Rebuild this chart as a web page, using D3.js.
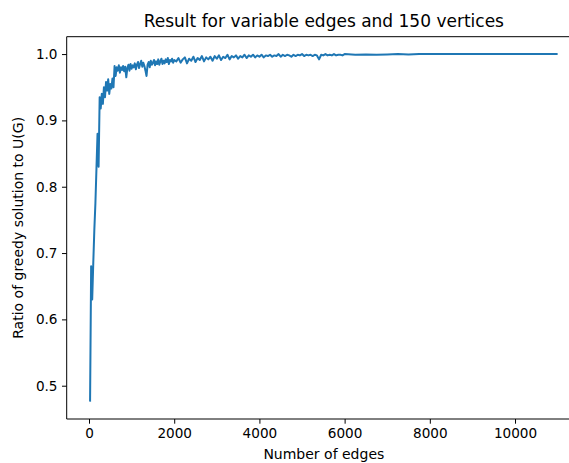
<!DOCTYPE html>
<html>
<head>
<meta charset="utf-8">
<script src="https://cdn.jsdelivr.net/npm/d3@7"></script>
<style>
  body { margin: 0; background: #fff; }
  svg { display: block; font-family: "DejaVu Sans", sans-serif; }
</style>
</head>
<body>
<svg id="chart" width="569" height="463"></svg>
<script>
// sampling grid of the experiment (number of edges)
const edges = [].concat(
  d3.range(25, 2001, 25),
  d3.range(2050, 6001, 50),
  d3.range(6250, 11001, 250)
);

// ratio of greedy solution to U(G)
const ratios = [
  // 25 .. 2000, step 25
  0.476, 0.680, 0.630, 0.685, 0.735, 0.775, 0.828, 0.880, 0.830, 0.935,
  0.918, 0.940, 0.925, 0.950, 0.935, 0.958, 0.945, 0.962, 0.940, 0.955,
  0.948, 0.963, 0.950, 0.982, 0.967, 0.980, 0.975, 0.983, 0.972, 0.980,
  0.976, 0.982, 0.974, 0.981, 0.965, 0.979, 0.984, 0.975, 0.985, 0.978,
  0.983, 0.980, 0.986, 0.977, 0.984, 0.988, 0.979, 0.985, 0.990, 0.981,
  0.987, 0.982, 0.975, 0.967, 0.984, 0.988, 0.980, 0.990, 0.984, 0.987,
  0.991, 0.983, 0.989, 0.985, 0.992, 0.984, 0.989, 0.993, 0.985, 0.990,
  0.986, 0.992, 0.988, 0.994, 0.985, 0.991, 0.989, 0.993, 0.987, 0.991,
  // 2050 .. 6000, step 50
  0.989, 0.994, 0.987, 0.992, 0.995, 0.986, 0.993, 0.990, 0.996, 0.988,
  0.994, 0.991, 0.997, 0.989, 0.995, 0.992, 0.996, 0.990, 0.997, 0.993,
  0.998, 0.991, 0.996, 0.994, 0.999, 0.992, 0.997, 0.995, 0.998, 0.993,
  0.997, 0.995, 0.999, 0.994, 0.998, 0.996, 0.999, 0.995, 0.998, 0.996,
  0.999, 0.995, 0.998, 0.997, 0.999, 0.996, 0.998, 0.997, 1.000, 0.996,
  0.999, 0.997, 0.999, 0.998, 0.996, 0.999, 0.997, 0.999, 0.998, 1.000,
  0.997, 0.999, 0.998, 0.999, 0.997, 0.999, 0.998, 0.992, 0.999, 0.998,
  1.000, 0.998, 0.999, 0.998, 1.000, 0.998, 0.999, 0.999, 0.998, 1.000,
  // 6250 .. 11000, step 250
  0.999, 0.9995, 0.999, 0.9995, 1.000, 0.9995, 1.000, 1.000, 1.000, 1.000,
  1.000, 1.000, 1.000, 1.000, 1.000, 1.000, 1.000, 1.000, 1.000, 1.000
];

const xTicks = [0, 2000, 4000, 6000, 8000, 10000];
const yTicks = [0.5, 0.6, 0.7, 0.8, 0.9, 1.0];

const data = edges.map((e, i) => ({ x: e, y: ratios[i] }));

const svg = d3.select('#chart');
// axes box; the right edge falls just outside the picture, as in the reference
const box = { left: 66.7, right: 581, top: 36.7, bottom: 419 };

// matplotlib style 5% padding around the data
let xExt = d3.extent(edges), yExt = d3.extent(ratios);
let xPad = (xExt[1] - xExt[0]) * 0.05, yPad = (yExt[1] - yExt[0]) * 0.05;

let x = d3.scaleLinear().domain([xExt[0] - xPad, xExt[1] + xPad]).range([box.left, box.right]);
let y = d3.scaleLinear().domain([yExt[0] - yPad, yExt[1] + yPad]).range([box.bottom, box.top]);

let xAxis = svg.append('g')
  .attr('transform', `translate(0,${box.bottom})`)
  .call(d3.axisBottom(x).tickValues(xTicks).tickFormat(d3.format('d')).tickSize(4.7).tickPadding(4.5));

let yAxis = svg.append('g')
  .attr('transform', `translate(${box.left},0)`)
  .call(d3.axisLeft(y).tickValues(yTicks).tickFormat(d3.format('.1f')).tickSize(4.7).tickPadding(4.5));

[xAxis, yAxis].forEach(a => {
  a.select('.domain').remove();
  a.selectAll('line').attr('stroke', '#000').attr('stroke-width', 1);
  a.selectAll('text').attr('fill', '#000')
    .style('font-size', '13.6px')
    .style('font-family', '"DejaVu Sans", sans-serif');
});

// spines: left, top, bottom (right one is off the picture)
svg.append('path')
  .attr('d', `M${box.right},${box.top} L${box.left},${box.top} L${box.left},${box.bottom} L${box.right},${box.bottom}`)
  .attr('fill', 'none')
  .attr('stroke', '#000')
  .attr('stroke-width', 1);

svg.append('path')
  .datum(data)
  .attr('fill', 'none')
  .attr('stroke', '#1f77b4')
  .attr('stroke-width', 2)
  .attr('stroke-linejoin', 'round')
  .attr('d', d3.line().x(d => x(d.x)).y(d => y(d.y)));

svg.append('text')
  .attr('x', (box.left + box.right) / 2)
  .attr('y', 27)
  .attr('text-anchor', 'middle')
  .style('font-size', '17px')
  .text('Result for variable edges and 150 vertices');

svg.append('text')
  .attr('x', (box.left + box.right) / 2)
  .attr('y', 459)
  .attr('text-anchor', 'middle')
  .style('font-size', '14px')
  .text('Number of edges');

svg.append('text')
  .attr('transform', `translate(23,${(box.top + box.bottom) / 2}) rotate(-90)`)
  .attr('text-anchor', 'middle')
  .style('font-size', '14px')
  .text('Ratio of greedy solution to U(G)');
</script>
</body>
</html>
